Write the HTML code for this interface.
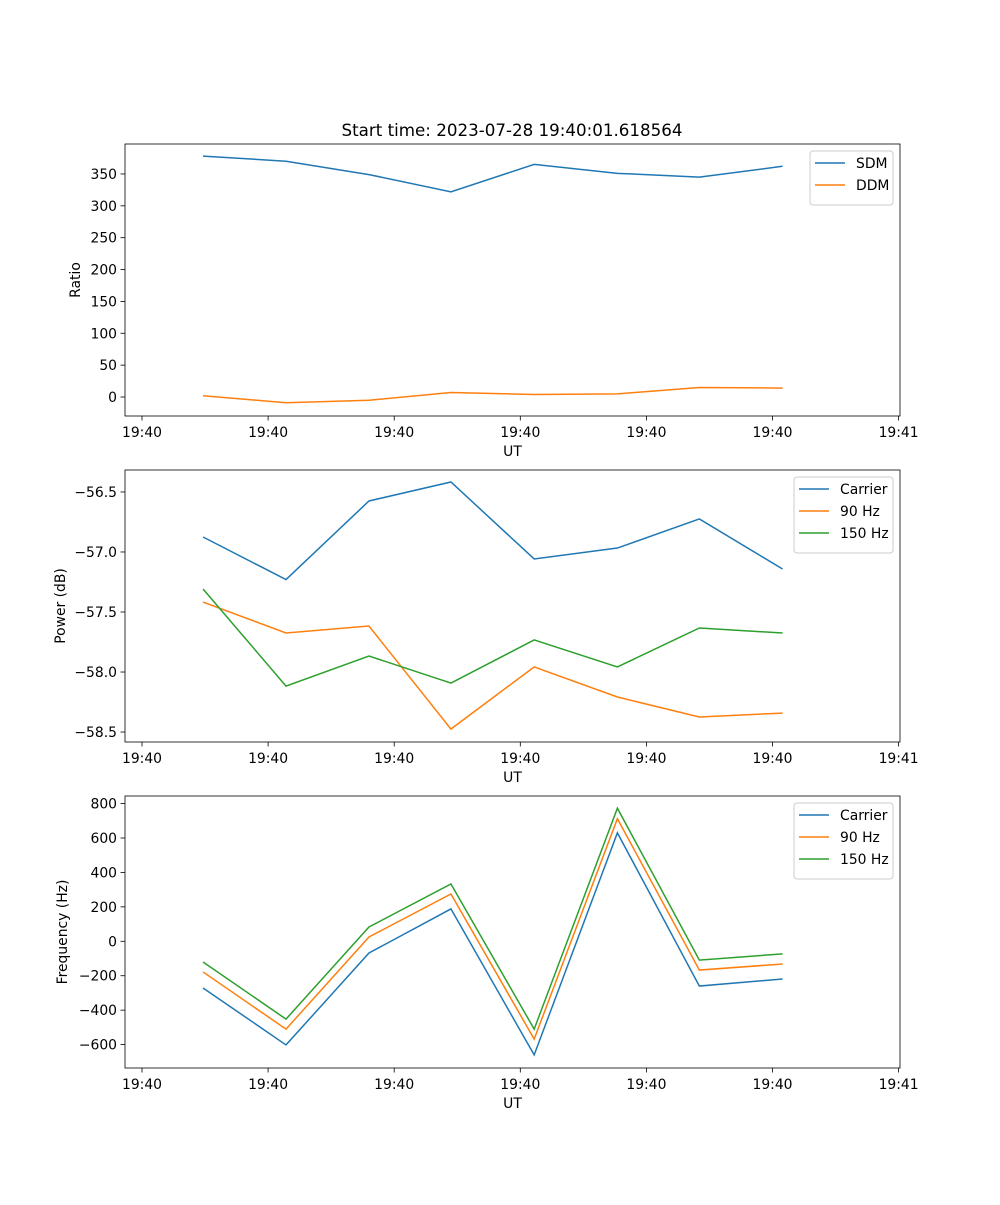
<!DOCTYPE html>
<html><head><meta charset="utf-8"><style>
body{margin:0;background:#fff;}
svg text{font-family:"DejaVu Sans","Liberation Sans",sans-serif;}
</style></head><body>
<svg id="chart" width="1000" height="1200" xmlns="http://www.w3.org/2000/svg"></svg>
<script>
const timeTicks = [0,1,2,3,4,5,6];
const timeTickLabels = ["19:40","19:40","19:40","19:40","19:40","19:40","19:41"];
const sampleTimes = [0.484,1.142,1.80,2.45,3.11,3.77,4.42,5.08];
const sdm = [378,370,349,322,365,351,345,362];
const ddm = [2,-9,-5,7,4,5,15,14];
const powerCarrier = [-56.875,-57.23,-56.575,-56.417,-57.058,-56.967,-56.725,-57.142];
const power90 = [-57.417,-57.675,-57.617,-58.475,-57.958,-58.208,-58.375,-58.342];
const power150 = [-57.308,-58.117,-57.867,-58.092,-57.733,-57.958,-57.633,-57.675];
const freqCarrier = [-271,-602,-68,188,-660,630,-260,-219];
const freq90 = [-178,-510,25,275,-568,712,-167,-132];
const freq150 = [-120,-452,83,333,-510,773,-109,-73];
const ratioTicks = [0,50,100,150,200,250,300,350];
const powerTicks = [-58.5,-58.0,-57.5,-57.0,-56.5];
const freqTicks = [-600,-400,-200,0,200,400,600,800];

const NS="http://www.w3.org/2000/svg";
const svg=document.getElementById('chart');
const C={blue:'#1f77b4',orange:'#ff7f0e',green:'#2ca02c'};
function mk(tag,attrs,parent){const e=document.createElementNS(NS,tag);for(const k in attrs)e.setAttribute(k,attrs[k]);(parent||svg).appendChild(e);return e;}
const L=125,R=900;
const xs=t=>142+t*126.1;

function panel(name,top,bot,ymin,ymax,ticks,fmt,ylabel,series,legend){
  const g=mk('g',{});
  
  
  const ys=v=>bot-(v-ymin)/(ymax-ymin)*(bot-top);
  ticks.forEach(v=>{
    const y=ys(v);
    const tl=mk('line',{x1:L-4.5,x2:L,y1:y,y2:y,stroke:'#000','stroke-width':0.8},g);
    
    
    const t=mk('text',{x:L-8,y:y+5,'text-anchor':'end','font-size':13.9},g);
    
    
    t.textContent=fmt(v);
  });
  timeTicks.forEach((v,i)=>{
    const x=xs(v);
    const tl=mk('line',{x1:x,x2:x,y1:bot,y2:bot+4.5,stroke:'#000','stroke-width':0.8},g);
    
    
    const t=mk('text',{x:x,y:bot+21,'text-anchor':'middle','font-size':13.9},g);
    
    
    t.textContent=timeTickLabels[i];
  });
  const xl=mk('text',{x:(L+R)/2,y:bot+40,'text-anchor':'middle','font-size':13.9},g);
  
  
  xl.textContent='UT';
  const cy=(top+bot)/2;
  const yl=mk('text',{x:0,y:0,'text-anchor':'middle','font-size':13.9,transform:`translate(${L-50},${cy}) rotate(-90)`},g);
  if(name==='ratio')yl.setAttribute('transform',`translate(${L-45},${cy}) rotate(-90)`);
  if(name==='power')yl.setAttribute('transform',`translate(${L-60},${cy}) rotate(-90)`);
  if(name==='frequency')yl.setAttribute('transform',`translate(${L-58},${cy}) rotate(-90)`);
  
  
  yl.textContent=ylabel;
  series.forEach(s=>{
    const p=mk('polyline',{points:s.v.map((v,i)=>xs(sampleTimes[i])+','+ys(v)).join(' '),fill:'none',stroke:s.c,'stroke-width':1.5},g);
    
    
  });
  const fr=mk('rect',{x:L,y:top,width:R-L,height:bot-top,fill:'none',stroke:'#000','stroke-width':0.8},g);
  
  
  const lg=mk('g',{},g);
  
  
  mk('rect',{x:legend.x,y:top+7,width:893-legend.x,height:10+series.length*22,rx:3,fill:'#fff',stroke:'#ccc','stroke-width':1},lg);
  series.forEach((s,i)=>{
    const y=top+19+i*22;
    const e=mk('g',{},lg);
    
    
    mk('line',{x1:legend.x+5,x2:legend.x+35,y1:y,y2:y,stroke:s.c,'stroke-width':1.5},e);
    const t=mk('text',{x:legend.x+46,y:y+5,'font-size':13.9},e);
    t.textContent=s.label;
  });
}
const title=mk('text',{x:512,y:136,'text-anchor':'middle','font-size':16.7});


title.textContent='Start time: 2023-07-28 19:40:01.618564';

panel('ratio',144,416,-29.8,397,ratioTicks,v=>String(v),'Ratio',
 [{n:'sdm',v:sdm,c:C.blue,label:'SDM'},{n:'ddm',v:ddm,c:C.orange,label:'DDM'}],{x:810});
panel('power',470,742,-58.583,-56.317,powerTicks,v=>'\u2212'+Math.abs(v).toFixed(1),'Power (dB)',
 [{n:'carrier-power',v:powerCarrier,c:C.blue,label:'Carrier'},{n:'90hz-power',v:power90,c:C.orange,label:'90 Hz'},{n:'150hz-power',v:power150,c:C.green,label:'150 Hz'}],{x:794});
panel('frequency',796,1068,-736,844,freqTicks,v=>v<0?'\u2212'+Math.abs(v):String(v),'Frequency (Hz)',
 [{n:'carrier-frequency',v:freqCarrier,c:C.blue,label:'Carrier'},{n:'90hz-frequency',v:freq90,c:C.orange,label:'90 Hz'},{n:'150hz-frequency',v:freq150,c:C.green,label:'150 Hz'}],{x:794});
</script>
</body></html>
